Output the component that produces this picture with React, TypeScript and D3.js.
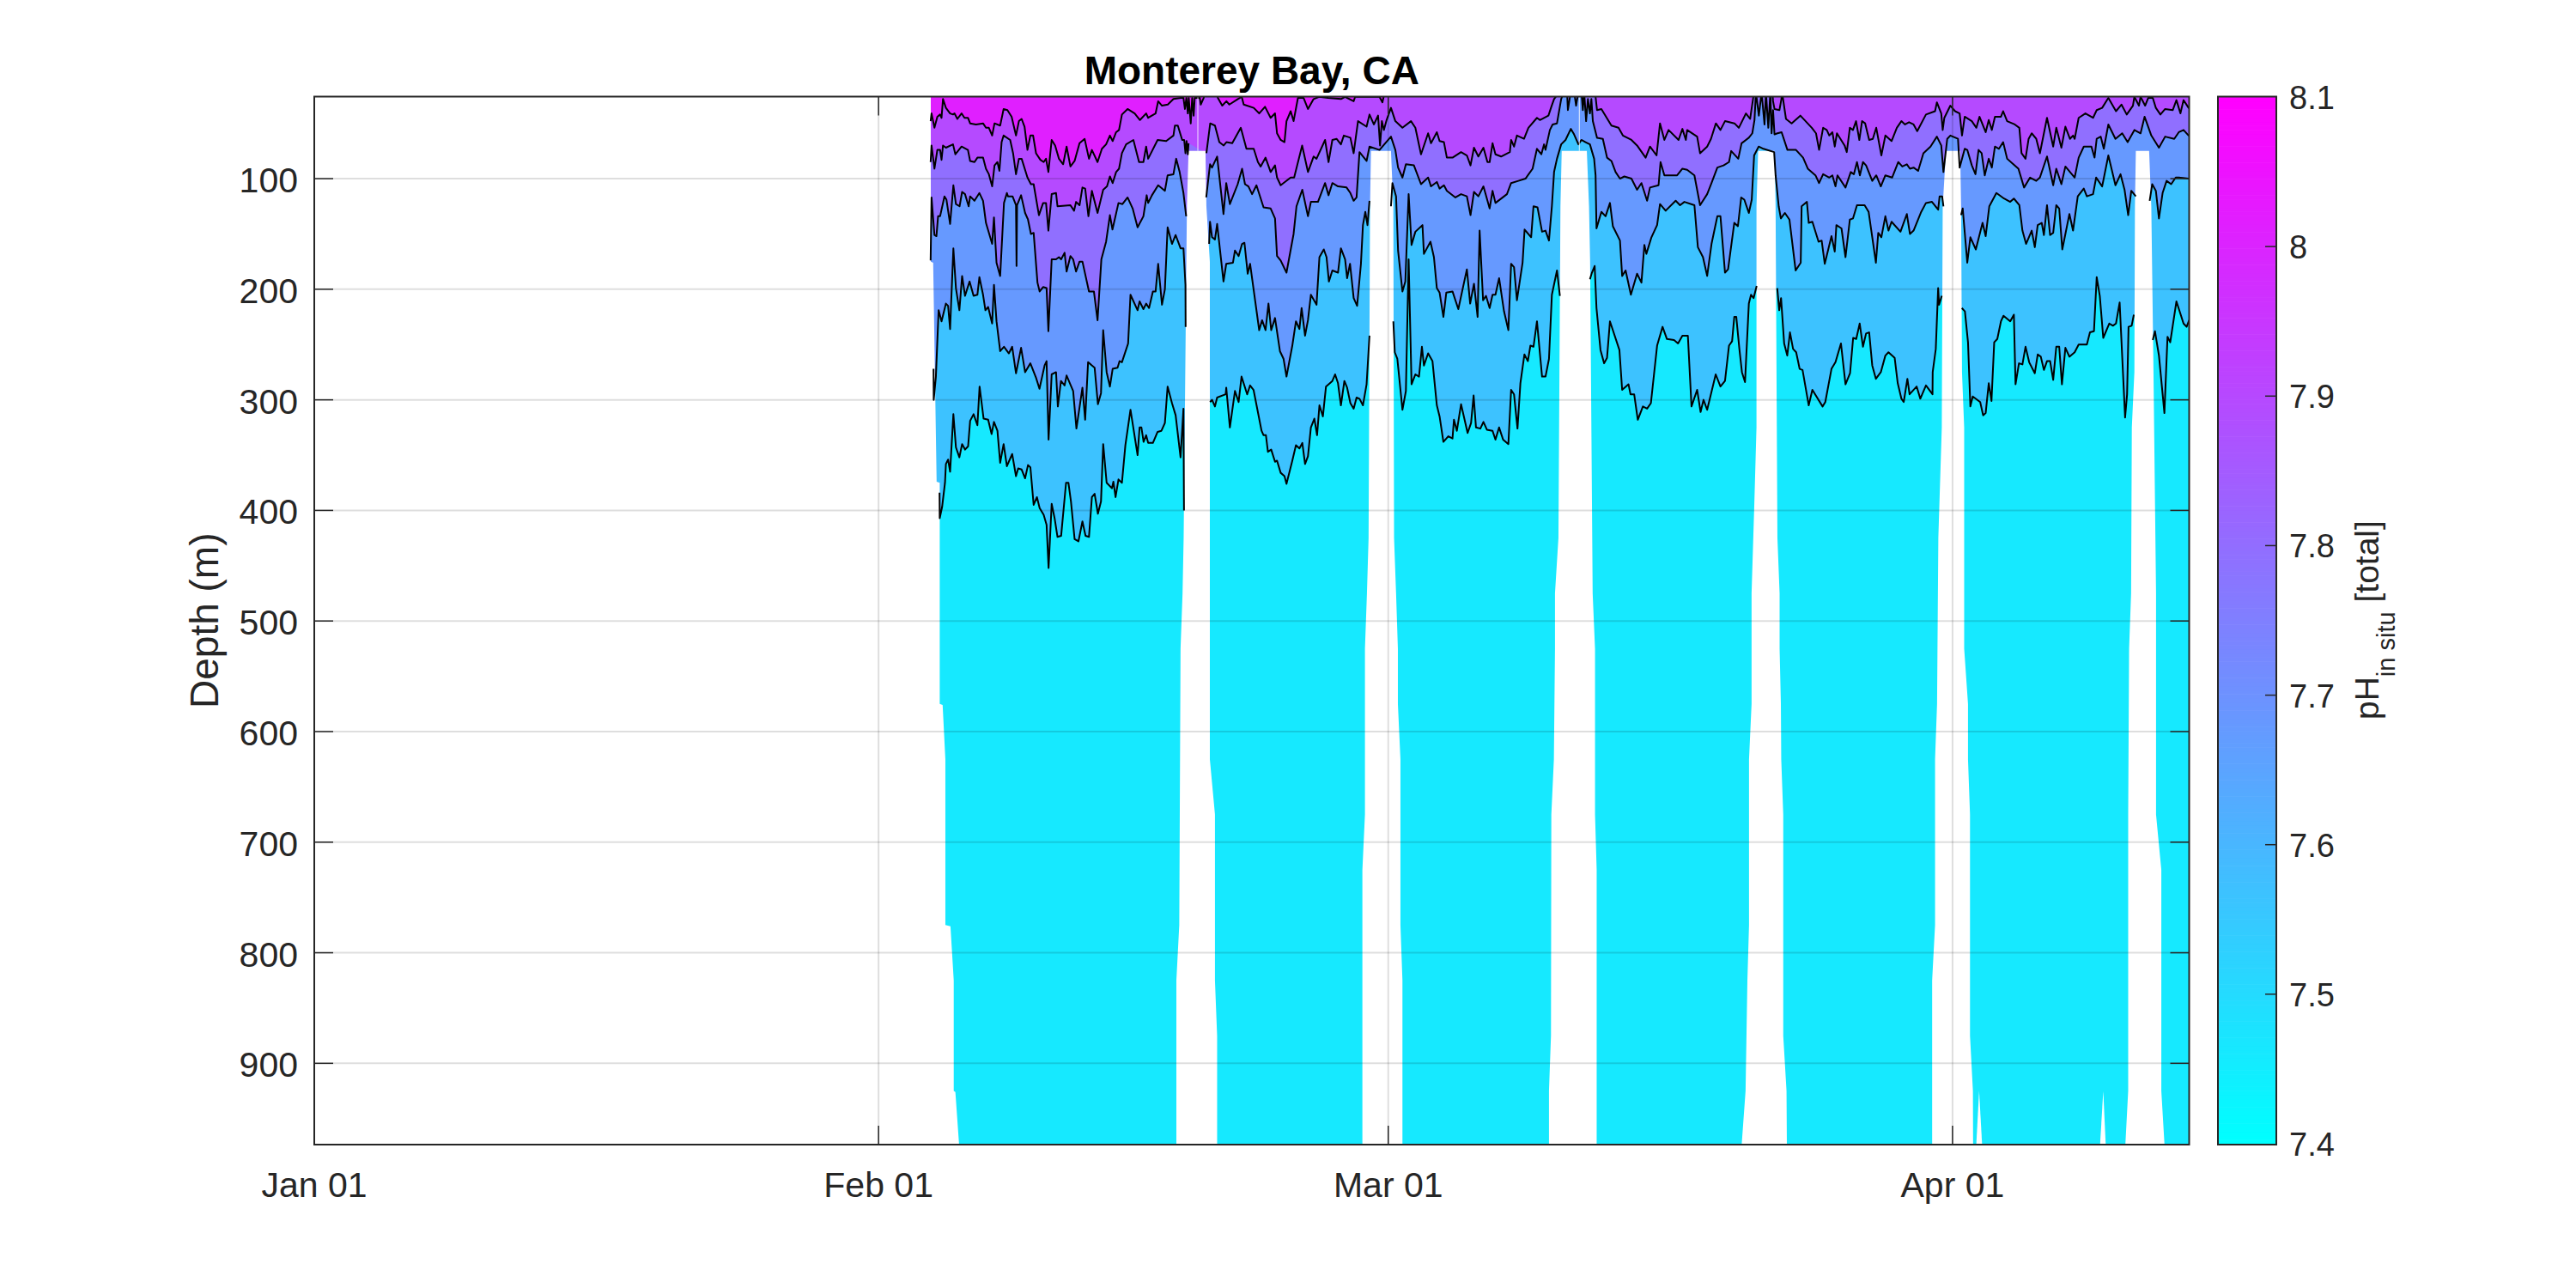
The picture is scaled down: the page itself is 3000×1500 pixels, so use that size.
import React from "react";
import * as d3 from "d3";

type P = [number, number] | null;

const yDepthTicks = [100, 200, 300, 400, 500, 600, 700, 800, 900];
const monthTicks: [number, string][] = [[0, "Jan 01"], [31, "Feb 01"], [59, "Mar 01"], [90, "Apr 01"]];
const cbarTicks = [7.4, 7.5, 7.6, 7.7, 7.8, 7.9, 8, 8.1];
const bandPH = [7.46, 7.568, 7.68, 7.795, 7.897, 8.015];

// Contours: [days since Jan 01, depth in m]; null = break in the line
const contour1: P[] = [[33.86,48],[33.91,41],[34.07,54],[34.23,44],[34.38,42],[34.46,45],[34.54,28],[34.7,36],[34.93,41],[35.09,42],[35.17,41],[35.33,46],[35.56,41],[35.72,45],[35.91,45],[36.03,50],[36.35,51],[36.74,50],[36.9,54],[37.06,54],[37.24,61],[37.37,50],[37.68,52],[37.87,37],[38.08,38],[38.31,44],[38.55,61],[38.71,48],[38.86,46],[39.02,53],[39.18,74],[39.34,61],[39.49,61],[39.65,77],[39.89,83],[40.07,85],[40.2,82],[40.33,94],[40.51,65],[40.7,70],[40.91,82],[41.14,87],[41.33,71],[41.54,89],[41.77,84],[42.04,68],[42.32,64],[42.56,82],[42.72,74],[43.03,85],[43.27,73],[43.5,69],[43.71,61],[43.86,66],[44.05,58],[44.21,56],[44.37,42],[44.68,37],[45.07,41],[45.36,47],[45.7,41],[45.81,45],[46.22,41],[46.36,30],[46.57,34],[46.89,33],[47.2,28],[47.6,27],[47.75,27],[47.83,37],[47.91,27],[47.99,41],[48.04,27],[48.15,50],[48.23,27],[48.31,43],[48.37,27],[48.65,27],[48.7,33],[48.86,27],[48.95,20],[49.56,20],[49.64,27],[49.88,34],[50.11,30],[50.27,33],[50.74,28],[50.95,26],[51.06,33],[51.61,36],[51.91,41],[52.23,35],[52.54,45],[52.78,41],[52.89,59],[53.09,65],[53.3,67],[53.41,48],[53.64,39],[53.8,48],[54.04,27],[54.35,27],[54.59,37],[54.9,28],[55.2,26],[55.7,27],[56.4,28],[56.63,26],[57.1,30],[57.18,26],[58.52,26],[58.68,31],[58.76,25],[59,20],[103,20]];

const contour2: P[] = [[33.86,85],[33.91,70],[34.07,91],[34.23,74],[34.38,74],[34.46,83],[34.54,70],[34.7,72],[35.09,69],[35.22,78],[35.56,71],[35.91,74],[36.03,84],[36.27,85],[36.43,81],[36.74,81],[36.9,91],[37.06,96],[37.24,107],[37.37,88],[37.53,85],[37.64,93],[37.76,67],[37.87,61],[38.23,65],[38.39,77],[38.55,96],[38.71,82],[38.86,82],[39.18,99],[39.37,105],[39.52,105],[39.81,133],[40.04,122],[40.2,122],[40.33,147],[40.51,114],[40.75,113],[40.83,125],[41.54,124],[41.74,129],[41.85,121],[42.04,124],[42.2,108],[42.35,109],[42.53,134],[42.72,111],[43.03,131],[43.34,110],[43.55,107],[43.71,98],[43.86,104],[44.05,94],[44.21,91],[44.37,77],[44.6,69],[45,65],[45.31,85],[45.55,85],[45.7,71],[45.81,82],[46.33,65],[46.8,66],[47.2,61],[47.28,52],[47.44,52],[47.68,65],[47.79,65],[47.86,77],[47.92,66],[47.99,78],[48.03,68],null,[49.01,77],[49.22,50],[49.48,52],[49.72,67],[49.96,70],[50.11,67],[50.43,68],[50.9,54],[51.21,73],[51.61,73],[51.84,85],[51.99,89],[52.26,81],[52.54,94],[52.78,88],[52.89,99],[53.09,106],[53.64,99],[53.83,99],[54.27,70],[54.59,94],[54.9,80],[55.06,82],[55.53,65],[55.72,85],[55.93,65],[56.16,64],[56.4,69],[56.56,61],[56.92,63],[57.1,77],[57.34,48],[57.81,53],[57.97,42],[58.21,51],[58.44,43],[58.55,70],[58.65,48],[58.76,56],[58.91,47],[59.15,36],[59.39,48],[59.78,54],[60.25,48],[60.49,54],[60.8,78],[61.19,59],[61.35,68],[61.67,58],[61.82,66],[62.06,67],[62.22,81],[62.53,81],[63,76],[63.32,79],[63.52,88],[63.71,72],[63.95,80],[64.23,72],[64.45,85],[64.57,85],[64.73,68],[64.89,78],[65.2,80],[65.68,76],[65.75,65],[65.91,71],[66.07,61],[66.46,64],[66.7,54],[67.17,45],[67.33,47],[67.8,43],[67.96,35],[68.11,28],[68.43,21],[70.16,21],[70.39,26],[70.47,38],[70.71,37],[71.26,52],[71.65,54],[71.89,61],[72.36,65],[72.67,70],[73.14,81],[73.38,71],[73.74,79],[73.93,50],[74.17,65],[74.4,56],[74.95,65],[75.16,55],[75.35,65],[75.42,56],[75.97,62],[76.13,77],[76.52,71],[76.73,64],[77,50],[77.25,56],[77.5,48],[78.02,50],[78.26,54],[78.65,41],[78.88,46],[79.04,28],[79.1,21],[80.1,21],[80.14,30],[80.22,37],[80.49,38],[80.6,28],[80.63,21],[80.69,28],[80.85,46],[81.16,50],[81.64,43],[82.27,54],[82.5,59],[82.67,74],[82.89,54],[83.09,56],[83.23,61],[83.4,58],[83.53,71],[83.65,59],[84.07,70],[84.19,76],[84.36,54],[84.53,56],[84.7,48],[84.88,65],[85.03,48],[85.2,50],[85.42,65],[85.62,64],[85.81,54],[86.09,79],[86.31,61],[86.65,66],[86.94,54],[87.19,48],[87.39,51],[87.61,49],[87.86,51],[88.06,57],[88.54,42],[89.04,39],[89.14,31],[89.38,41],[89.46,56],[89.55,45],[89.88,34],[90.14,39],[90.39,41],[90.52,61],[90.67,44],[91.06,48],[91.31,54],[91.48,44],[91.82,58],[91.99,47],[92.16,56],[92.33,44],[92.66,44],[92.78,39],[93,48],[93.42,51],[93.67,54],[93.79,77],[94.01,82],[94.18,64],[94.35,59],[94.6,64],[94.8,77],[95.19,45],[95.53,71],[95.7,54],[95.98,72],[96.2,53],[96.45,64],[96.62,61],[96.71,64],[96.93,45],[97.3,41],[97.72,45],[97.92,38],[98.22,36],[98.56,27],[98.98,39],[99.28,33],[99.57,42],[99.91,34],[99.99,26],[100.24,34],[100.33,26],[100.58,34],[100.75,27],[101,27],[101.17,36],[101.42,42],[101.68,37],[102.1,38],[102.3,29],[102.52,41],[102.69,29],[102.97,36],[103,36]];

const contour3: P[] = [[33.86,174],[33.91,117],[34.07,151],[34.18,152],[34.27,134],[34.38,134],[34.62,116],[34.73,119],[34.93,141],[35.11,106],[35.25,123],[35.45,125],[35.59,112],[35.75,114],[35.95,125],[36.03,116],[36.27,120],[36.54,113],[36.74,120],[36.9,140],[37.24,159],[37.34,135],[37.48,176],[37.68,188],[37.89,122],[38.05,113],[38.11,116],[38.36,116],[38.55,124],[38.58,179],[38.61,124],[38.83,115],[39.05,131],[39.21,137],[39.37,150],[39.52,149],[39.73,194],[39.85,202],[40.04,198],[40.23,199],[40.33,238],[40.51,173],[40.75,173],[40.91,171],[41.03,173],[41.22,167],[41.33,184],[41.54,170],[41.69,173],[41.85,184],[42.04,175],[42.2,175],[42.56,202],[42.83,202],[43.03,228],[43.24,173],[43.5,157],[43.71,133],[43.85,146],[44.18,122],[44.4,123],[44.68,117],[44.96,127],[45.23,144],[45.55,134],[45.73,115],[45.81,122],[46.02,115],[46.36,106],[46.73,111],[46.88,97],[47.2,96],[47.35,82],[47.54,94],[47.75,113],[47.9,134],null,[49,117],[49.21,87],[49.32,90],[49.6,80],[49.95,132],[50.1,104],[50.3,123],[50.73,105],[50.97,91],[51.13,105],[51.32,107],[51.52,114],[51.76,106],[52.15,126],[52.54,127],[52.78,136],[52.89,170],[53.09,174],[53.41,185],[53.8,150],[53.96,125],[54.28,110],[54.59,134],[54.75,121],[55.14,121],[55.53,104],[55.72,115],[55.93,104],[56.24,107],[56.71,108],[56.92,113],[57.1,120],[57.26,117],[57.42,76],[57.81,84],[57.97,71],[58.52,74],[59.15,62],[59.39,74],[59.54,90],[59.78,99],[59.97,87],[60.41,88],[60.8,105],[61.19,99],[61.35,107],[61.67,103],[61.82,109],[62.06,106],[62.22,111],[62.69,117],[63,114],[63.32,116],[63.52,133],[63.71,112],[63.95,116],[64.23,107],[64.57,127],[64.73,111],[64.89,122],[65.52,114],[65.75,104],[66.15,102],[66.54,100],[66.93,91],[67.17,73],[67.41,78],[67.56,69],[67.64,74],[67.88,56],[68.03,51],[68.27,50],[68.5,28],[68.66,21],[68.82,21],[68.87,38],[69.03,21],[69.21,21],[69.32,34],[69.45,21],[69.61,21],[69.69,38],[69.76,21],[69.87,48],[69.97,28],[70.08,41],[70.16,28],[70.24,48],[70.47,63],[70.79,64],[71.02,81],[71.26,84],[71.49,94],[71.73,100],[71.97,98],[72.36,100],[72.67,110],[72.91,104],[73.22,120],[73.38,108],[73.85,106],[73.96,85],[74.17,97],[74.87,97],[75.16,91],[75.42,92],[75.82,97],[76.13,124],[76.52,114],[76.76,104],[77.08,90],[77.42,88],[77.72,85],[77.84,75],[78.23,82],[78.41,68],[78.81,63],[79,59],[79.12,47],[79.2,22],[79.36,43],[79.51,22],[79.67,51],[79.75,22],[79.88,54],[79.99,22],[80.06,59],[80.14,38],[80.22,60],[80.38,59],[80.61,58],[80.93,74],[81.4,74],[81.79,81],[82.05,91],[82.47,97],[82.67,104],[82.89,96],[83.23,99],[83.4,97],[83.57,107],[83.68,97],[84.12,108],[84.41,94],[84.58,96],[84.75,85],[84.91,97],[85.08,85],[85.25,88],[85.59,102],[85.81,97],[86.06,107],[86.31,97],[86.68,99],[87.02,85],[87.24,89],[87.49,87],[87.66,91],[87.86,90],[88.11,93],[88.4,77],[88.79,71],[89.14,62],[89.38,70],[89.5,94],[89.71,64],[89.88,61],[90.3,64],[90.39,90],[90.67,73],[90.81,74],[91.06,88],[91.26,96],[91.43,74],[91.6,77],[91.77,97],[91.99,82],[92.16,90],[92.33,71],[92.55,73],[92.78,67],[93,82],[93.34,87],[93.62,91],[93.93,108],[94.26,99],[94.6,102],[94.8,99],[95.19,80],[95.53,106],[95.7,91],[95.98,105],[96.2,89],[96.71,99],[96.93,81],[97.21,71],[97.63,71],[97.8,81],[97.92,64],[98.14,62],[98.31,73],[98.56,51],[98.95,64],[99.32,59],[99.62,67],[99.99,56],[100.33,59],[100.55,44],[100.92,61],[101.34,72],[101.68,62],[102.18,64],[102.43,58],[102.69,56],[102.97,61],[103,61]];

const contour4: P[] = [[34.02,272],[34.03,300],[34.15,279],[34.3,219],[34.46,229],[34.7,213],[34.82,215],[34.93,236],[35.11,163],[35.25,199],[35.44,219],[35.59,188],[35.75,206],[36,193],[36.22,206],[36.43,205],[36.54,189],[36.74,205],[36.87,219],[37.02,216],[37.24,231],[37.34,196],[37.48,229],[37.68,256],[37.89,252],[38.16,258],[38.34,252],[38.55,276],[38.83,253],[39.05,275],[39.34,267],[39.65,280],[39.84,290],[40.12,269],[40.23,265],[40.34,336],[40.51,277],[40.75,275],[40.85,306],[41.02,283],[41.22,287],[41.33,278],[41.69,292],[41.87,326],[42.2,289],[42.35,318],[42.51,266],[42.87,271],[43.05,304],[43.22,294],[43.34,237],[43.53,275],[43.71,288],[43.86,272],[44.13,271],[44.24,265],[44.37,266],[44.71,249],[44.84,205],[45.23,219],[45.34,211],[45.55,218],[45.7,213],[45.86,217],[46.07,202],[46.22,202],[46.36,177],[46.57,214],[46.73,200],[46.88,144],[47.12,159],[47.32,151],[47.59,163],[47.75,163],[47.86,196],[47.87,234],null,[49.16,159],[49.21,139],[49.32,153],[49.48,155],[49.6,141],[49.95,193],[50.1,177],[50.47,176],[50.58,165],[50.78,170],[50.97,159],[51.1,158],[51.28,186],[51.41,177],[51.91,237],[52.07,228],[52.26,237],[52.42,213],[52.57,237],[52.78,226],[53.05,256],[53.25,263],[53.41,279],[53.73,251],[53.93,229],[54.12,236],[54.24,217],[54.43,242],[54.59,228],[54.75,205],[55.06,214],[55.22,171],[55.46,164],[55.61,171],[55.74,193],[55.93,183],[56.24,185],[56.4,163],[56.63,173],[56.74,190],[56.9,177],[57.1,208],[57.29,215],[57.5,177],[57.61,142],[57.74,130],[57.86,142],[57.97,120],null,[59.15,125],[59.23,104],[59.43,116],[59.54,165],[59.78,202],[59.94,193],[60.12,114],[60.28,160],[60.49,148],[60.88,142],[60.96,168],[61.32,157],[61.51,171],[61.67,199],[61.82,203],[62.03,225],[62.19,203],[62.53,202],[62.85,218],[63.32,182],[63.5,213],[63.71,195],[63.91,225],[64.02,147],[64.21,210],[64.37,206],[64.57,217],[64.73,205],[64.89,205],[65.09,190],[65.36,220],[65.6,237],[65.75,177],[65.91,180],[66.07,210],[66.38,176],[66.49,146],[66.85,153],[66.98,125],[67.2,126],[67.45,148],[67.64,147],[67.83,156],[67.99,125],[68.11,94],[68.27,82],[68.5,69],[68.74,65],[69.03,55],[69.21,60],[69.45,69],[69.61,65],[69.84,67],[70.08,69],[70.31,82],[70.39,97],[70.44,145],[70.71,130],[70.94,134],[71.18,122],[71.34,143],[71.73,156],[71.85,188],[72.04,183],[72.33,205],[72.67,186],[72.91,194],[73.07,160],[73.18,168],[73.46,153],[73.77,142],[73.93,123],[74.24,129],[74.79,120],[75.03,124],[75.27,121],[75.82,124],[76.01,162],[76.29,171],[76.52,188],[76.76,159],[77.08,134],[77.25,134],[77.5,185],[77.67,182],[78.01,140],[78.21,143],[78.39,117],[78.56,119],[78.81,131],[78.97,119],[79.1,79],[79.35,71],[79.61,73],[80.2,76],[80.28,97],[80.45,125],[80.57,136],[80.79,131],[81.04,137],[81.38,183],[81.66,176],[81.71,125],[82,121],[82.1,140],[82.3,139],[82.64,157],[82.81,156],[82.98,177],[83.35,152],[83.53,166],[83.62,142],[83.9,145],[84.12,171],[84.36,137],[84.53,136],[84.75,124],[85.17,124],[85.39,130],[85.79,176],[85.92,149],[86.09,153],[86.31,134],[86.48,147],[86.65,139],[87.14,148],[87.49,132],[87.66,150],[87.86,147],[88.28,130],[88.54,122],[88.87,121],[89.21,128],[89.29,116],[89.43,116],[89.5,125],null,[90.47,133],[90.56,127],[90.81,176],[90.98,153],[91.28,164],[91.65,140],[91.82,152],[92.02,125],[92.41,113],[92.83,118],[93.17,121],[93.37,118],[93.67,124],[93.84,147],[94.04,159],[94.35,147],[94.52,162],[94.68,142],[94.9,140],[95.02,151],[95.19,124],[95.36,151],[95.53,149],[95.7,124],[95.86,127],[96.03,164],[96.42,132],[96.62,147],[96.88,116],[97.21,109],[97.38,116],[97.72,114],[97.89,99],[98.22,107],[98.56,79],[98.95,106],[99.23,96],[99.45,110],[99.65,133],[99.82,111],[100.07,116],null,[100.83,120],[100.97,105],[101.17,111],[101.34,136],[101.54,113],[101.76,102],[102.01,105],[102.26,99],[102.43,99],[102.97,100],[103,100]];

const contour5: P[] = [[34.35,384],[34.36,407],[34.49,397],[34.65,375],[34.7,358],[34.82,354],[34.93,365],[35.11,313],[35.25,343],[35.44,352],[35.59,340],[35.75,345],[35.92,342],[36.03,319],[36.22,313],[36.43,323],[36.55,288],[36.77,317],[37.02,318],[37.21,331],[37.34,320],[37.53,328],[37.68,357],[37.87,340],[38.05,360],[38.34,349],[38.55,369],[38.67,362],[38.86,363],[39.05,371],[39.21,359],[39.34,361],[39.52,395],[39.7,388],[39.85,398],[40.07,404],[40.23,413],[40.34,452],[40.51,394],[40.67,407],[40.83,424],[41.03,423],[41.3,375],[41.43,375],[41.57,392],[41.77,426],[41.98,428],[42.2,410],[42.37,423],[42.56,424],[42.72,388],[42.87,385],[43.05,403],[43.22,392],[43.34,340],[43.53,375],[43.82,380],[43.9,374],[44.02,388],[44.18,372],[44.37,375],[44.56,341],[44.84,309],[45.23,350],[45.34,325],[45.44,325],[45.56,338],[45.7,332],[45.81,339],[46.07,339],[46.33,329],[46.54,328],[46.73,321],[46.88,288],[47.12,303],[47.32,314],[47.59,352],[47.75,308],[47.78,400],null,[49.21,302],[49.32,300],[49.48,306],[49.6,298],[50.07,295],[50.1,289],[50.3,325],[50.58,292],[50.78,302],[50.94,279],[51.25,295],[51.41,287],[51.6,291],[52.04,328],[52.15,332],[52.28,332],[52.39,347],[52.57,345],[52.78,356],[52.89,355],[53.09,366],[53.3,369],[53.41,376],[53.73,355],[53.93,341],[54.12,344],[54.28,339],[54.43,358],[54.59,351],[54.75,325],[54.94,317],[55.09,332],[55.22,305],[55.41,315],[55.58,288],[55.93,283],[56.08,277],[56.24,285],[56.4,305],[56.59,283],[56.74,289],[56.92,303],[57.1,308],[57.26,298],[57.42,299],[57.61,305],[57.81,286],[57.97,242],null,[59.28,229],[59.36,257],[59.5,263],[59.78,309],[59.97,292],[60.12,173],[60.28,286],[60.49,277],[60.69,279],[60.85,252],[60.96,269],[61.19,258],[61.43,265],[61.67,305],[61.82,315],[62.03,338],[62.3,333],[62.53,335],[62.61,318],[62.77,328],[63,304],[63.36,330],[63.55,321],[63.69,296],[63.82,325],[64.06,326],[64.23,320],[64.42,327],[64.73,328],[64.89,336],[65.09,325],[65.31,336],[65.6,340],[65.75,291],[65.91,295],[66.1,326],[66.26,285],[66.48,259],[66.67,265],[66.81,251],[66.98,252],[67.17,229],[67.45,279],[67.64,279],[67.83,263],[67.99,205],[68.27,183],[68.43,206],null,[70.08,191],[70.19,185],[70.34,179],[70.44,217],[70.66,255],[70.86,267],[71.02,262],[71.18,229],[71.7,255],[71.85,291],[72.2,286],[72.31,295],[72.51,295],[72.71,318],[72.99,306],[73.22,308],[73.43,303],[73.77,251],[74.07,234],[74.31,245],[74.7,246],[74.92,249],[75.16,242],[75.46,242],[75.66,306],[75.97,291],[76.16,311],[76.32,300],[76.52,309],[76.99,277],[77.25,288],[77.5,283],[77.72,251],[77.89,247],[78.01,225],[78.12,225],[78.29,254],[78.43,275],[78.6,284],[78.81,213],[78.93,205],[79.07,208],[79.24,197],null,[80.37,199],[80.48,219],[80.58,208],[80.75,249],[80.92,260],[81.07,239],[81.24,254],[81.41,257],[81.6,272],[81.76,273],[82.1,305],[82.3,291],[82.86,306],[83.01,302],[83.35,272],[83.57,266],[83.87,249],[84.12,286],[84.37,276],[84.54,244],[84.71,245],[84.9,231],[85.08,252],[85.25,240],[85.42,239],[85.59,269],[85.79,281],[86.06,275],[86.31,260],[86.48,257],[86.82,262],[86.99,285],[87.19,299],[87.32,302],[87.52,281],[87.64,295],[88.03,288],[88.23,299],[88.54,287],[88.9,295],[88.91,275],[89.08,254],[89.21,199],[89.26,214],[89.41,206],null,[90.51,217],[90.68,220],[90.85,248],[90.98,306],[91.11,297],[91.52,302],[91.68,314],[91.82,312],[91.99,285],[92.14,301],[92.29,248],[92.46,245],[92.66,229],[92.8,224],[93.17,229],[93.37,223],[93.46,286],[93.65,267],[93.84,268],[94.01,252],[94.21,266],[94.52,276],[94.68,259],[94.85,261],[95.02,273],[95.19,265],[95.36,265],[95.53,282],[95.7,252],[95.86,252],[96.01,286],[96.2,253],[96.42,261],[96.71,257],[96.93,250],[97.38,250],[97.55,239],[97.77,238],[97.92,189],[98.09,206],[98.28,244],[98.61,231],[98.81,233],[98.98,231],[99.18,212],[99.48,316],[99.59,295],[99.67,234],[99.84,233],[99.96,223],null,[101,246],[101.12,238],[101.34,260],[101.64,312],[101.81,243],[101.96,248],[102.3,211],[102.69,231],[102.86,234],[103,228]];

// Depth-grid edges of the missing-data columns: [depth, day]
const dataStartEdge: [number, number][] = [[25,33.87],[175,33.87],[176,34],[374,34.19],[375,34.36],[575,34.36],[576,34.52],[625,34.67],[775,34.67],[776,34.95],[825,35.13],[925,35.13],[926,35.22],[975,35.43]];
const gap1L: [number, number][] = [[75,48.03],[125,47.94],[425,47.76],[475,47.7],[525,47.59],[775,47.52],[825,47.36],[975,47.36]];
const gap1R: [number, number][] = [[75,48.96],[125,49.01],[175,49.2],[625,49.2],[675,49.48],[825,49.48],[875,49.6],[975,49.6]];
const gap2L: [number, number][] = [[75,58.05],[125,58],[425,57.92],[475,57.83],[525,57.72],[675,57.72],[725,57.58],[975,57.58]];
const gap2R: [number, number][] = [[75,59.15],[125,59.28],[425,59.32],[475,59.43],[525,59.53],[575,59.53],[625,59.67],[775,59.67],[825,59.78],[975,59.78]];
const gap3L: [number, number][] = [[75,68.53],[125,68.46],[425,68.35],[475,68.16],[525,68.16],[625,68.1],[675,67.96],[875,67.94],[925,67.83],[975,67.83]];
const gap3R: [number, number][] = [[75,69.91],[125,70.03],[175,70.09],[475,70.23],[525,70.36],[675,70.36],[725,70.45],[975,70.45]];
const gap4L: [number, number][] = [[75,79.32],[125,79.23],[325,79.23],[400,79.1],[475,78.96],[575,78.96],[625,78.82],[775,78.82],[825,78.73],[925,78.63],[975,78.41]];
const gap4R: [number, number][] = [[75,80.23],[125,80.28],[425,80.38],[475,80.5],[525,80.5],[575,80.57],[625,80.59],[675,80.7],[875,80.7],[925,80.88],[975,80.9]];
const gap5L: [number, number][] = [[75,89.64],[125,89.46],[325,89.41],[425,89.22],[575,89.15],[625,89.04],[775,89.04],[825,88.88],[975,88.88]];
const gap5R: [number, number][] = [[75,90.42],[125,90.47],[275,90.52],[325,90.64],[525,90.64],[575,90.85],[625,90.85],[675,90.96],[875,90.96],[925,91.12],[975,91.13]];
const gap6L: [number, number][] = [[75,100.07],[125,100.02],[275,99.99],[325,99.85],[475,99.81],[525,99.7],[675,99.65],[925,99.65],[975,99.49]];
const gap6R: [number, number][] = [[75,100.8],[125,100.92],[275,101.04],[475,101.18],[675,101.18],[725,101.47],[925,101.47],[975,101.65]];
const gaps = [[gap1L, gap1R], [gap2L, gap2R], [gap3L, gap3R], [gap4L, gap4R], [gap5L, gap5R], [gap6L, gap6R]];
// small wedges at the deepest grid level: [left day, tip day, right day]
const wedges: [number, number, number][] = [[91.3, 91.46, 91.63], [98.1, 98.28, 98.42]];
// thin light seams above the gaps: days since Jan 01
const seams = [48.54, 69.5];

const L = 366, R = 2549.5, T = 112.5, B = 1333;
const CL = 2583, CR = 2651;
const FONT = "'Liberation Sans', Arial, sans-serif";
const INK = "#262626";

export default function App() {
  const x = d3.scaleLinear().domain([0, 103]).range([L, R]);
  const y = d3.scaleLinear().domain([25.8, 973.5]).range([T, B]);
  const cy = d3.scaleLinear().domain([7.4, 8.1]).range([B - 1, T + 0.5]);
  const cool = (v: number) => d3.interpolateRgb("#00ffff", "#ff00ff")((v - 7.4) / 0.7);

  const contours = [contour5, contour4, contour3, contour2, contour1];
  const line = d3.line<P>().defined(d => d !== null).x(d => x(d![0])).y(d => y(d![1]));
  const area = d3.area<[number, number]>().x(d => x(d[0])).y0(T - 5).y1(d => y(d[1]));
  const fillPoints = (c: P[]) => {
    const pts = c.filter(d => d !== null) as [number, number][];
    return [[33.8, pts[0][1]] as [number, number], ...pts];
  };
  const poly = (l: [number, number][], r: [number, number][]) => {
    const a = l.map(d => [x(d[1]), y(d[0])]);
    const b = [...r].reverse().map(d => [x(d[1]), y(d[0])]);
    return d3.line()([...a, ...b] as [number, number][])! + "Z";
  };
  const leftPoly = d3.line()([
    [L, T], ...dataStartEdge.map(d => [x(d[1]), y(d[0])] as [number, number]), [L, y(975)],
  ] as [number, number][])! + "Z";
  const cbarSteps = d3.range(0, 256);

  return (
    <svg width={3000} height={1500} style={{ position: "absolute", left: 0, top: 0, background: "#fff" }} fontFamily={FONT}>
      <defs>
        <clipPath id="plot"><rect x={L} y={T} width={R - L} height={B - T} /></clipPath>
      </defs>
      <g clipPath="url(#plot)">
        <rect x={x(33.8)} y={T} width={R - x(33.8)} height={B - T} fill={cool(bandPH[0])} />
        {contours.map((c, i) => (
          <path key={i} d={area(fillPoints(c))!} fill={cool(bandPH[i + 1])} />
        ))}
        <path d={leftPoly} fill="#fff" />
        {gaps.map(([l, r], i) => <path key={i} d={poly(l, r)} fill="#fff" />)}
        {wedges.map((w, i) => (
          <path key={i} d={d3.line()([[x(w[0]), y(975)], [x(w[1]), y(925)], [x(w[2]), y(975)]])! + "Z"} fill="#fff" />
        ))}
        {yDepthTicks.map(t => (
          <line key={t} x1={L} x2={R} y1={y(t)} y2={y(t)} stroke="#000" strokeOpacity={0.13} strokeWidth={2} />
        ))}
        {monthTicks.slice(1).map(([d]) => (
          <line key={d} x1={x(d)} x2={x(d)} y1={T} y2={B} stroke="#000" strokeOpacity={0.13} strokeWidth={2} />
        ))}
        {contours.map((c, i) => (
          <path key={i} d={line(c)!} fill="none" stroke="#000" strokeWidth={2} strokeLinejoin="round" />
        ))}
        {seams.map(d => (
          <line key={d} x1={x(d)} x2={x(d)} y1={T} y2={y(75)} stroke="#fff" strokeOpacity={0.7} strokeWidth={1.2} />
        ))}
      </g>

      {yDepthTicks.map(t => (
        <g key={t} stroke={INK} strokeWidth={1.5}>
          <line x1={L} x2={L + 22} y1={y(t)} y2={y(t)} />
          <line x1={R - 22} x2={R} y1={y(t)} y2={y(t)} />
        </g>
      ))}
      {monthTicks.map(([d]) => (
        <g key={d} stroke={INK} strokeWidth={1.5}>
          <line x1={x(d)} x2={x(d)} y1={T} y2={T + 22} />
          <line x1={x(d)} x2={x(d)} y1={B - 22} y2={B} />
        </g>
      ))}
      <rect x={L} y={T} width={R - L} height={B - T} fill="none" stroke={INK} strokeWidth={2} />

      {yDepthTicks.map(t => (
        <text key={t} x={347} y={y(t) + 16} textAnchor="end" fontSize={41} fill={INK}>{t}</text>
      ))}
      {monthTicks.map(([d, s]) => (
        <text key={d} x={x(d)} y={1394} textAnchor="middle" fontSize={41} fill={INK}>{s}</text>
      ))}
      <text x={(L + R) / 2} y={98} textAnchor="middle" fontSize={46} fontWeight="bold" fill="#000">Monterey Bay, CA</text>
      <text transform={`translate(254,${(T + B) / 2}) rotate(-90)`} textAnchor="middle" fontSize={46} fill={INK}>Depth (m)</text>

      {cbarSteps.map(i => {
        const v0 = 7.4 + (i / 256) * 0.7;
        const v1 = 7.4 + ((i + 1) / 256) * 0.7;
        return <rect key={i} x={CL} width={CR - CL} y={cy(v1)} height={cy(v0) - cy(v1) + 0.6} fill={cool((v0 + v1) / 2)} />;
      })}
      {cbarTicks.slice(1, -1).map(t => (
        <line key={t} x1={CR - 13} x2={CR} y1={cy(t)} y2={cy(t)} stroke={INK} strokeWidth={1.5} />
      ))}
      <rect x={CL} y={T} width={CR - CL} height={B - T} fill="none" stroke={INK} strokeWidth={2} />
      {cbarTicks.map(t => (
        <text key={t} x={2666} y={cy(t) + 14} fontSize={38} fill={INK}>{String(t)}</text>
      ))}
      <text transform="translate(2770,838) rotate(-90)" fontSize={39} fill={INK}>
        pH<tspan fontSize={29} dy={19}>in situ</tspan><tspan dy={-19}> [total]</tspan>
      </text>
    </svg>
  );
}
